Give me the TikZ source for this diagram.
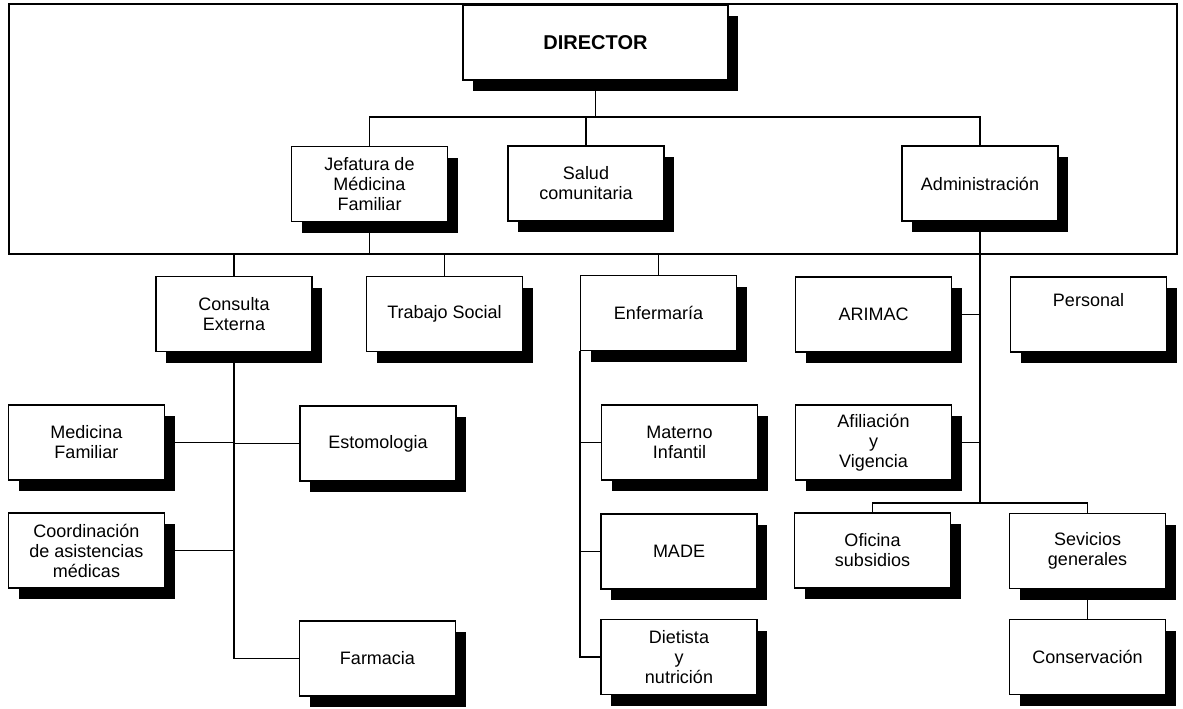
\documentclass[tikz,border=0pt]{standalone}
\usepackage{fontspec}
\setmainfont{Liberation Sans}
\usetikzlibrary{shadows}

\begin{document}
\begin{tikzpicture}[x=0.5pt,y=-0.5pt,line width=0.6pt,
  box/.style={draw,fill=white,rectangle,align=center,inner sep=1pt,
    minimum width=78pt,minimum height=37.5pt,
    font=\fontsize{9}{10}\selectfont,
    general shadow={fill=black,shadow xshift=5pt,shadow yshift=-5.5pt}},
  bigbox/.style={box,minimum width=132.5pt,font=\bfseries\fontsize{10}{12}\selectfont}]

\useasboundingbox (0,0) rectangle (1183,708);

\path (595.5,42.5) node[bigbox](dir){DIRECTOR}
      (369.5,184) node[box](jef){Jefatura de\\Médicina\\Familiar}
      (586,183.5) node[box](sal){Salud\\comunitaria}
      (980,183.5) node[box](adm){Administración};

\path (234,314) node[box](con){Consulta\\Externa}
      (444.5,314) node[box](tra){Trabajo Social}
      (658.5,313) node[box](enf){Enfermaría}
      (873.5,314.5) node[box](ari){ARIMAC}
      (1088.5,314.5) node[box](per){Personal\\[5pt]~};

\path (86.5,442.5) node[box](med){Medicina\\Familiar}
      (378,443.5) node[box](est){Estomologia}
      (679.5,442.5) node[box](mat){Materno\\Infantil}
      (873.5,442.5) node[box](afi){Afiliación\\y\\Vigencia};

\path (86.5,550.5) node[box](coo){Coordinación\\de asistencias\\médicas}
      (679,551.5) node[box](mad){MADE}
      (872.5,550.5) node[box](ofi){Oficina\\subsidios}
      (1087.5,551) node[box](sev){Sevicios\\generales};

\path (377.5,658.5) node[box](far){Farmacia}
      (679,657) node[box](die){Dietista\\y\\nutrición}
      (1087.5,657) node[box](cns){Conservación};

\coordinate (bus) at (595.5,117);
\coordinate (base) at (0,254);
\coordinate (sub) at (980,503);

\draw (9,4) rectangle (1177,254);
\draw (dir.south) -- (bus);
\draw (jef.north) |- (bus) -| (adm.north);
\draw (sal.north) -- (sal.north |- bus);

\draw (jef.south) -- (jef.south |- base);
\draw (con.north) -- (con.north |- base);
\draw (tra.north) -- (tra.north |- base);
\draw (enf.north) -- (enf.north |- base);

\draw (con.south) |- (far.west);
\draw (med.east) -- (med.east -| con.south);
\draw (est.west) -- (est.west -| con.south);
\draw (coo.east) -- (coo.east -| con.south);

\draw (enf.south west) |- (die.west);
\draw (mat.west) -- (mat.west -| enf.south west);
\draw (mad.west) -- (mad.west -| enf.south west);

\draw (adm.south) -- (sub);
\draw (ari.east) -- (ari.east -| sub);
\draw (afi.east) -- (afi.east -| sub);
\draw (ofi.north) |- (sub) -| (sev.north);
\draw (sev.south) -- (cns.north);
\end{tikzpicture}
\end{document}
